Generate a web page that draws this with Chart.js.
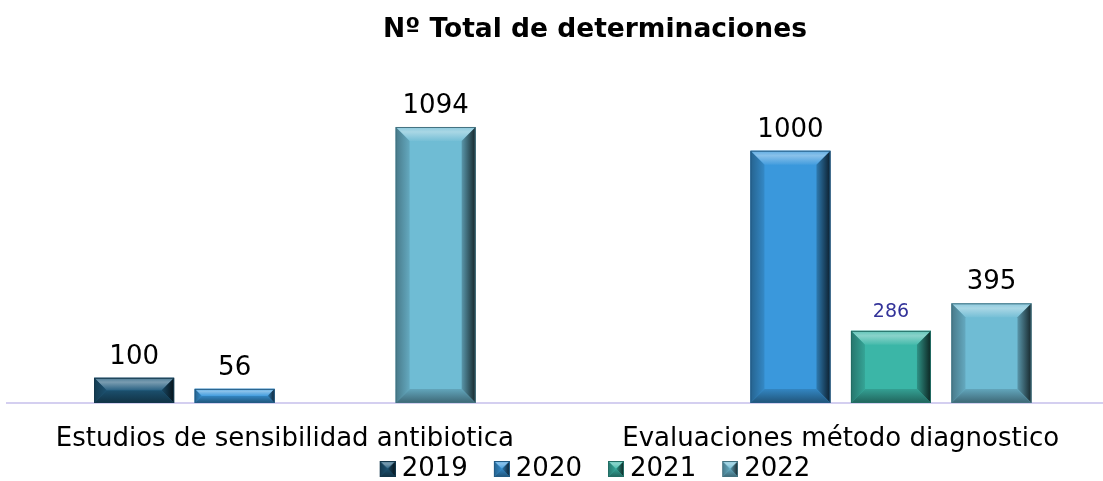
<!DOCTYPE html>
<html>
<head>
<meta charset="utf-8">
<title>Nº Total de determinaciones</title>
<script src="https://cdn.jsdelivr.net/npm/chart.js@4/dist/chart.umd.min.js"></script>
<style>
  html, body { margin: 0; padding: 0; background: #fff; overflow: hidden; }
  #wrap { position: absolute; left: 0; top: 0; width: 1190px; height: 492px; }
</style>
</head>
<body>
<div id="wrap"><canvas id="chart" width="1190" height="492"></canvas></div>
<script>
const categories = ["Estudios de sensibilidad antibiotica", "Evaluaciones método diagnostico"];
const years = ["2019", "2020", "2021", "2022"];
const values2019 = [100, null];
const values2020 = [56, 1000];
const values2021 = [null, 286];
const values2022 = [1094, 395];

const seriesColors = ["#1f5a7c", "#3a98dc", "#3bb6a7", "#6fbcd4"];
const FONT = "'DejaVu Sans', Verdana, sans-serif";

// mix a hex colour toward white (t > 0) or black (t < 0)
function shade(hex, t) {
  const n = parseInt(hex.slice(1), 16);
  let r = n >> 16, g = (n >> 8) & 255, b = n & 255;
  const target = t > 0 ? 255 : 0;
  const a = Math.abs(t);
  r = Math.round(r + (target - r) * a);
  g = Math.round(g + (target - g) * a);
  b = Math.round(b + (target - b) * a);
  return `rgb(${r},${g},${b})`;
}

function poly(ctx, pts, fill) {
  ctx.beginPath();
  ctx.moveTo(pts[0][0], pts[0][1]);
  for (let i = 1; i < pts.length; i++) ctx.lineTo(pts[i][0], pts[i][1]);
  ctx.closePath();
  ctx.fillStyle = fill;
  ctx.fill();
}

// bevelled box like the office "angle" bar effect
function drawBevel(ctx, x0, y0, x1, y1, color, size) {
  const w = x1 - x0, h = y1 - y0;
  const b = Math.min(size, w / 2, h / 2);
  let g;

  g = ctx.createLinearGradient(0, y0, 0, y0 + b);
  g.addColorStop(0, shade(color, 0.2));
  g.addColorStop(0.35, shade(color, 0.4));
  g.addColorStop(1, shade(color, 0.05));
  poly(ctx, [[x0, y0], [x1, y0], [x1 - b, y0 + b], [x0 + b, y0 + b]], g);

  g = ctx.createLinearGradient(x0, 0, x0 + b, 0);
  g.addColorStop(0, shade(color, -0.35));
  g.addColorStop(1, shade(color, -0.1));
  poly(ctx, [[x0, y0], [x0 + b, y0 + b], [x0 + b, y1 - b], [x0, y1]], g);

  g = ctx.createLinearGradient(x1 - b, 0, x1, 0);
  g.addColorStop(0, shade(color, -0.2));
  g.addColorStop(1, shade(color, -0.8));
  poly(ctx, [[x1, y0], [x1, y1], [x1 - b, y1 - b], [x1 - b, y0 + b]], g);

  g = ctx.createLinearGradient(0, y1 - b, 0, y1);
  g.addColorStop(0, shade(color, -0.12));
  g.addColorStop(1, shade(color, -0.45));
  poly(ctx, [[x0, y1], [x0 + b, y1 - b], [x1 - b, y1 - b], [x1, y1]], g);

  ctx.lineWidth = 1;
  ctx.strokeStyle = shade(color, -0.4);
  ctx.strokeRect(x0 + 0.5, y0 + 0.5, w - 1, h - 1);
}

// legend squares: 16px bevelled box at the right end of a 23px wide image
const legendIcons = seriesColors.map((c) => {
  const cv = document.createElement("canvas");
  cv.width = 23;
  cv.height = 16;
  const cx = cv.getContext("2d");
  cx.fillStyle = c;
  cx.fillRect(7, 0, 16, 16);
  drawBevel(cx, 7, 0, 23, 16, c, 8);
  return cv;
});

const bevelBars = {
  id: "bevelBars",
  afterDatasetsDraw(chart) {
    const ctx = chart.ctx;
    ctx.save();
    chart.data.datasets.forEach((ds, i) => {
      const meta = chart.getDatasetMeta(i);
      meta.data.forEach((el, j) => {
        if (ds.data[j] == null) return;
        const p = el.getProps(["x", "y", "base", "width"], true);
        const top = Math.min(p.y, p.base), bottom = Math.max(p.y, p.base);
        drawBevel(ctx, p.x - p.width / 2, top, p.x + p.width / 2, bottom, seriesColors[i], 14);
      });
    });
    ctx.restore();
  },
};

const valueLabels = {
  id: "valueLabels",
  afterDatasetsDraw(chart) {
    const ctx = chart.ctx;
    ctx.save();
    ctx.textAlign = "center";
    ctx.textBaseline = "alphabetic";
    chart.data.datasets.forEach((ds, i) => {
      const meta = chart.getDatasetMeta(i);
      meta.data.forEach((el, j) => {
        const v = ds.data[j];
        if (v == null) return;
        if (i === 2) {
          ctx.font = `19px ${FONT}`;
          ctx.fillStyle = "#333399";
        } else {
          ctx.font = `26px ${FONT}`;
          ctx.fillStyle = "#000";
        }
        ctx.fillText(String(v), el.x, el.y - 14);
      });
    });
    ctx.restore();
  },
};

const seriesValues = [values2019, values2020, values2021, values2022];

new Chart(document.getElementById("chart"), {
  type: "bar",
  data: {
    labels: categories,
    datasets: years.map((y, i) => ({
      label: y,
      data: seriesValues[i],
      backgroundColor: seriesColors[i],
      borderWidth: 0,
      barPercentage: 0.796,
      categoryPercentage: 0.7233,
    })),
  },
  options: {
    responsive: false,
    devicePixelRatio: 1,
    animation: false,
    events: [],
    layout: { padding: 0 },
    plugins: {
      title: {
        display: true,
        text: "Nº Total de determinaciones",
        color: "#000",
        font: { family: FONT, size: 26.5, weight: "bold" },
        padding: { top: 14.5, bottom: 28.7 },
      },
      legend: {
        position: "bottom",
        labels: {
          color: "#000",
          font: { family: FONT, size: 26 },
          usePointStyle: true,
          pointStyleWidth: 9,
          padding: 0,
          generateLabels(chart) {
            const items = Chart.defaults.plugins.legend.labels.generateLabels(chart);
            items.forEach((it, k) => {
              it.pointStyle = legendIcons[it.datasetIndex];
              // two en spaces keep the items apart
              if (k < items.length - 1) it.text += "\u2002\u2002";
            });
            return items;
          },
        },
      },
      tooltip: { enabled: false },
    },
    scales: {
      x: {
        grid: { display: false, drawTicks: false },
        border: { display: true, color: "#d4cff0", width: 2 },
        ticks: {
          color: "#000",
          font: { family: FONT, size: 26 },
          padding: 20.5,
          maxRotation: 0,
          autoSkip: false,
        },
        afterFit(s) { s.height = 53; },
      },
      y: {
        min: 0,
        max: 1300,
        grid: { display: false },
        border: { display: false },
        ticks: { display: false },
        afterFit(s) { s.width = 7; },
      },
      yPad: {
        type: "linear",
        position: "right",
        grid: { display: false },
        border: { display: false },
        ticks: { display: false },
        afterFit(s) { s.width = 71.4; },
      },
    },
  },
  plugins: [bevelBars, valueLabels],
});
</script>
</body>
</html>
